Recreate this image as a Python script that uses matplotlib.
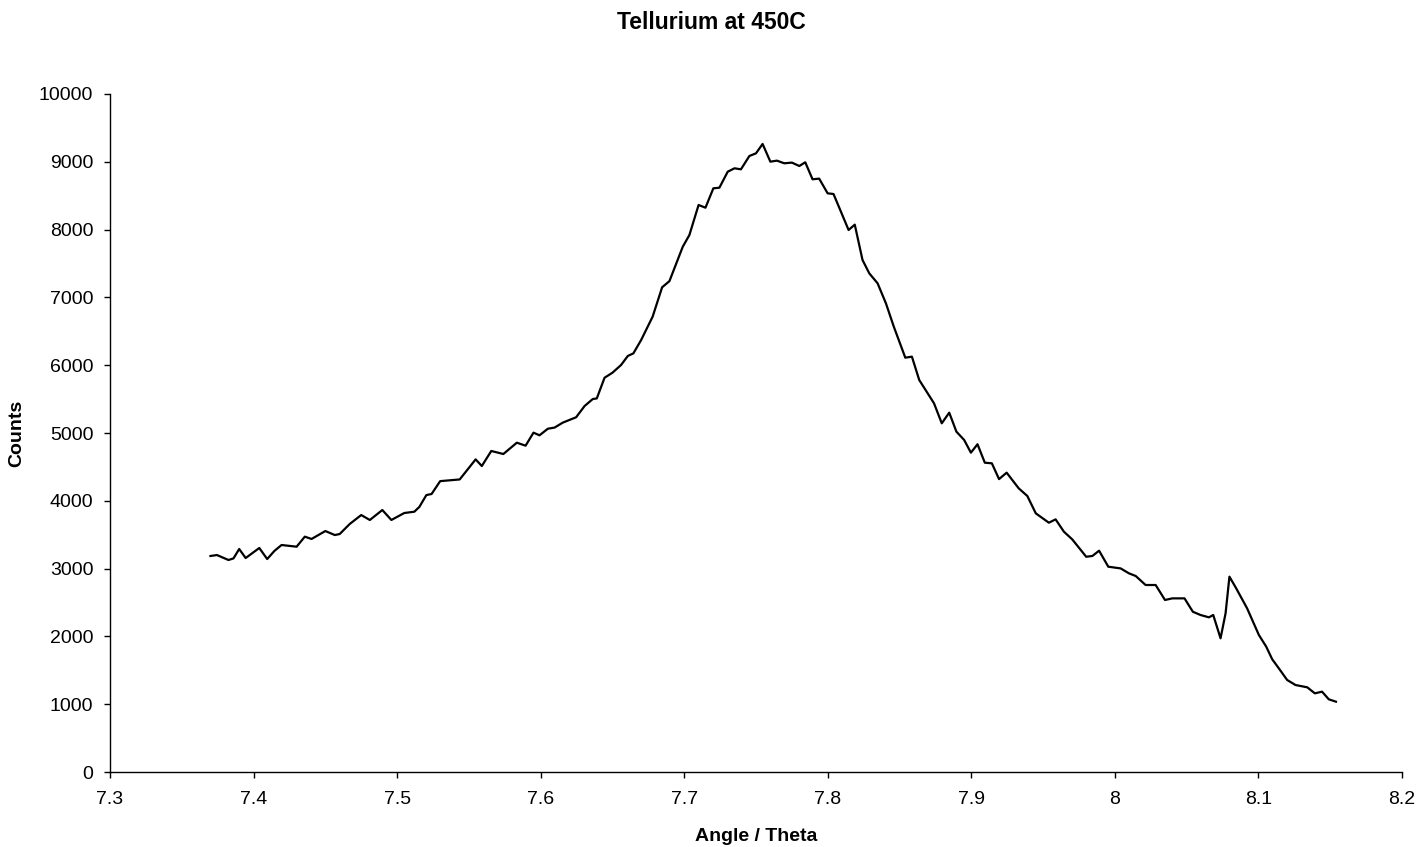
import matplotlib
matplotlib.use("Agg")
import matplotlib.pyplot as plt

plt.rcParams['font.family'] = ['Liberation Sans', 'DejaVu Sans']

angle = [7.370, 7.3745, 7.3825, 7.386, 7.390, 7.3945, 7.404, 7.4095, 7.4145, 7.4195,
         7.430, 7.4357, 7.4404, 7.450, 7.4566, 7.460, 7.467, 7.475, 7.481, 7.4897,
         7.496, 7.505, 7.512, 7.5155, 7.5204, 7.524, 7.530, 7.5436, 7.5547, 7.559,
         7.5656, 7.574, 7.5834, 7.5895, 7.595, 7.5992, 7.605, 7.6097, 7.6154, 7.6247,
         7.6306, 7.6363, 7.6391, 7.6445, 7.650, 7.656, 7.6607, 7.6646, 7.670, 7.678,
         7.6846, 7.6897, 7.699, 7.7036, 7.710, 7.7148, 7.7203, 7.7245, 7.7303, 7.735,
         7.7395, 7.7454, 7.750, 7.7546, 7.760, 7.7646, 7.7697, 7.775, 7.7802, 7.7843,
         7.7894, 7.794, 7.7999, 7.804, 7.8145, 7.8188, 7.8242, 7.8289, 7.8347, 7.8405,
         7.846, 7.854, 7.8586, 7.8637, 7.874, 7.8794, 7.8846, 7.8896, 7.895, 7.8997,
         7.9043, 7.9094, 7.9143, 7.9193, 7.9246, 7.933, 7.939, 7.9449, 7.954, 7.9587,
         7.9645, 7.9703, 7.980, 7.9843, 7.989, 7.9954, 8.004, 8.0098, 8.0145, 8.0214,
         8.0284, 8.0349, 8.040, 8.0485, 8.0543, 8.0596, 8.0655, 8.0685, 8.0736, 8.0771,
         8.0798, 8.0845, 8.0921, 8.1003, 8.1054, 8.1096, 8.1142, 8.120, 8.1258, 8.134,
         8.1393, 8.1443, 8.149, 8.154]

counts = [3186, 3200, 3127, 3150, 3289, 3156, 3304, 3141, 3260, 3348,
          3323, 3471, 3437, 3554, 3495, 3510, 3658, 3790, 3717, 3864,
          3717, 3820, 3839, 3910, 4085, 4100, 4290, 4315, 4611, 4513,
          4735, 4690, 4857, 4813, 5005, 4966, 5063, 5080, 5153, 5232,
          5398, 5501, 5510, 5815, 5889, 6003, 6136, 6175, 6372, 6716,
          7149, 7240, 7748, 7920, 8363, 8323, 8609, 8618, 8854, 8904,
          8889, 9086, 9125, 9263, 9002, 9017, 8978, 8988, 8938, 8993,
          8742, 8752, 8535, 8525, 7994, 8073, 7552, 7355, 7208, 6913,
          6568, 6111, 6126, 5782, 5438, 5143, 5300, 5020, 4897, 4710,
          4834, 4562, 4553, 4320, 4415, 4184, 4071, 3815, 3677, 3726,
          3544, 3431, 3175, 3186, 3264, 3028, 3003, 2930, 2891, 2758,
          2758, 2537, 2561, 2561, 2364, 2316, 2281, 2316, 1972, 2340,
          2881, 2709, 2414, 2021, 1849, 1662, 1529, 1357, 1283, 1249,
          1160, 1185, 1072, 1037]

x_ticks = [7.3, 7.4, 7.5, 7.6, 7.7, 7.8, 7.9, 8.0, 8.1, 8.2]
x_tick_labels = ['7.3', '7.4', '7.5', '7.6', '7.7', '7.8', '7.9', '8', '8.1', '8.2']
y_ticks = list(range(0, 10001, 1000))

W, H = 1418, 847
fig = plt.figure(figsize=(W / 100, H / 100), dpi=100)
ax = fig.add_axes([110 / W, 1 - 772 / H, (1402 - 110) / W, (772 - 94) / H])

ax.plot(angle, counts, color='black', linewidth=1.6, solid_joinstyle='round')

ax.set_xlim(7.3, 8.2)
ax.set_ylim(0, 10000)
ax.set_xticks(x_ticks)
ax.set_xticklabels(x_tick_labels)
ax.set_yticks(y_ticks)
ax.set_yticklabels([str(v) for v in y_ticks])

for s in ['top', 'right']:
    ax.spines[s].set_visible(False)
for s in ['left', 'bottom']:
    ax.spines[s].set_linewidth(1.0)
    ax.spines[s].set_color('black')

ax.tick_params(axis='both', direction='out', length=4, width=1, labelsize=14, colors='black')
ax.tick_params(axis='y', pad=8)
ax.tick_params(axis='x', pad=10)

fig.text(711 / W, 1 - 29 / H, 'Tellurium at 450C', ha='center', va='baseline',
         fontsize=16.5, fontweight='bold')
fig.text(756 / W, 1 - 841 / H, 'Angle / Theta', ha='center', va='baseline',
         fontsize=14, fontweight='bold')
fig.text(17 / W, 1 - 433 / H, 'Counts', ha='center', va='center', rotation=90,
         fontsize=14, fontweight='bold')

fig.savefig('out.png', dpi=100, facecolor='white')
